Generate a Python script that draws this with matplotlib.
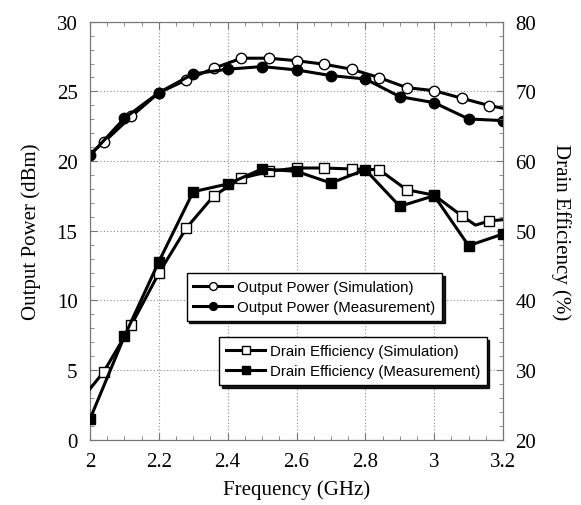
import matplotlib
matplotlib.use("Agg")
import matplotlib.pyplot as plt
from matplotlib.ticker import MultipleLocator

# Output power (dBm)
freq_meas = [2.0, 2.1, 2.2, 2.3, 2.4, 2.5, 2.6, 2.7, 2.8, 2.9, 3.0, 3.1, 3.2]
pout_meas = [20.4, 23.07, 24.91, 26.25, 26.59, 26.78, 26.54, 26.13, 25.89, 24.62, 24.19, 23.02, 22.9]

freq_sim_p = [2.0, 2.04, 2.12, 2.20, 2.28, 2.36, 2.44, 2.52, 2.60, 2.68, 2.76, 2.84, 2.92, 3.00, 3.08, 3.16, 3.2]
pout_sim = [20.5, 21.35, 23.2, 24.9, 25.82, 26.66, 27.38, 27.38, 27.2, 26.95, 26.59, 25.99, 25.27, 25.05, 24.51, 23.98, 23.79]

# Drain efficiency (%)
eff_meas = [22.97, 34.84, 45.55, 55.6, 56.7, 58.86, 58.52, 56.84, 58.76, 53.5, 55.02, 47.85, 49.53]

freq_sim_e = [2.0, 2.04, 2.12, 2.20, 2.28, 2.36, 2.44, 2.52, 2.60, 2.68, 2.76, 2.84, 2.92, 3.00, 3.08, 3.12, 3.16, 3.2]
eff_sim = [27.3, 29.76, 36.46, 43.9, 50.39, 55.02, 57.52, 58.52, 59.0, 59.0, 58.86, 58.76, 55.88, 55.1, 52.15, 50.8, 51.4, 51.58]

xticks = [2, 2.2, 2.4, 2.6, 2.8, 3, 3.2]
xticklabels = ["2", "2.2", "2.4", "2.6", "2.8", "3", "3.2"]

fig = plt.figure(figsize=(5.81, 5.06), dpi=100)
ax = fig.add_axes([90/581, 1-440.7/506, 413/581, 418/506])
ax2 = ax.twinx()

serif = "Liberation Serif"
sans = "Liberation Sans"

lw = 2.2
ms = 7.5
mp_idx = list(range(1, len(freq_sim_p) - 1))
me_idx = [i for i in range(1, len(freq_sim_e) - 1) if freq_sim_e[i] != 3.12]

l1, = ax.plot(freq_sim_p, pout_sim, '-', color='black', lw=lw, marker='o', ms=ms,
              mfc='white', mec='black', mew=1.0, markevery=mp_idx, zorder=3)
l2, = ax.plot(freq_meas, pout_meas, '-', color='black', lw=lw, marker='o', ms=ms,
              mfc='black', mec='black', zorder=4)
l3, = ax2.plot(freq_sim_e, eff_sim, '-', color='black', lw=lw, marker='s', ms=ms,
               mfc='white', mec='black', mew=1.0, markevery=me_idx, zorder=3)
l4, = ax2.plot(freq_meas, eff_meas, '-', color='black', lw=lw, marker='s', ms=ms,
               mfc='black', mec='black', zorder=4)

ax.set_xlim(2, 3.2)
ax.set_ylim(0, 30)
ax2.set_ylim(20, 80)
ax.set_xticks(xticks)
ax.set_xticklabels(xticklabels)
ax.xaxis.set_minor_locator(MultipleLocator(0.05))
ax.yaxis.set_major_locator(MultipleLocator(5))
ax.yaxis.set_minor_locator(MultipleLocator(1))
ax2.yaxis.set_major_locator(MultipleLocator(10))
ax2.yaxis.set_minor_locator(MultipleLocator(2))

ax.grid(True, which='major', linestyle=(0, (1, 2)), color='#888888', lw=0.8)

for a in (ax, ax2):
    for s in a.spines.values():
        s.set_color('#777777')
        s.set_linewidth(0.8)
ax.tick_params(axis='x', which='both', direction='in', top=True, colors='#777777',
               labelcolor='black', labelsize=15, pad=9)
ax.tick_params(axis='y', which='both', direction='in', colors='#777777',
               labelcolor='black', labelsize=15, pad=9)
ax2.tick_params(axis='y', which='both', direction='in', colors='#777777',
                labelcolor='black', labelsize=15, pad=9)
ax.tick_params(which='major', length=5)
ax.tick_params(which='minor', length=3)
ax2.tick_params(which='major', length=5)
ax2.tick_params(which='minor', length=3)
for lab in ax.get_xticklabels() + ax.get_yticklabels() + ax2.get_yticklabels():
    lab.set_fontfamily(serif)

ax.set_xlabel("Frequency (GHz)", fontfamily=serif, fontsize=15, labelpad=6)
ax.set_ylabel("Output Power (dBm)", fontfamily=serif, fontsize=15, labelpad=11)
ax2.set_ylabel("Drain Efficiency (%)", fontfamily=serif, fontsize=15, rotation=270, labelpad=25)

shadow = {'color': 'black', 'alpha': 0.9}
common = dict(bbox_transform=fig.transFigure, prop={'family': sans, 'size': 10.8},
              frameon=True, fancybox=False, shadow=shadow, markerscale=0.75,
              handlelength=2.6, handletextpad=0.3, borderpad=0.45, labelspacing=0.4,
              edgecolor='black', framealpha=1, borderaxespad=0, loc='upper left')
leg1 = ax2.legend([l1, l2], ["Output Power (Simulation)", "Output Power (Measurement)"],
                  bbox_to_anchor=(186.7/581, 1-274/506), **common)
leg1.get_frame().set_linewidth(1.0)
ax2.add_artist(leg1)
leg2 = ax2.legend([l3, l4], ["Drain Efficiency (Simulation)", "Drain Efficiency (Measurement)"],
                  bbox_to_anchor=(219.3/581, 1-338.3/506), **common)
leg2.get_frame().set_linewidth(1.0)

fig.savefig("out.png", dpi=100)
